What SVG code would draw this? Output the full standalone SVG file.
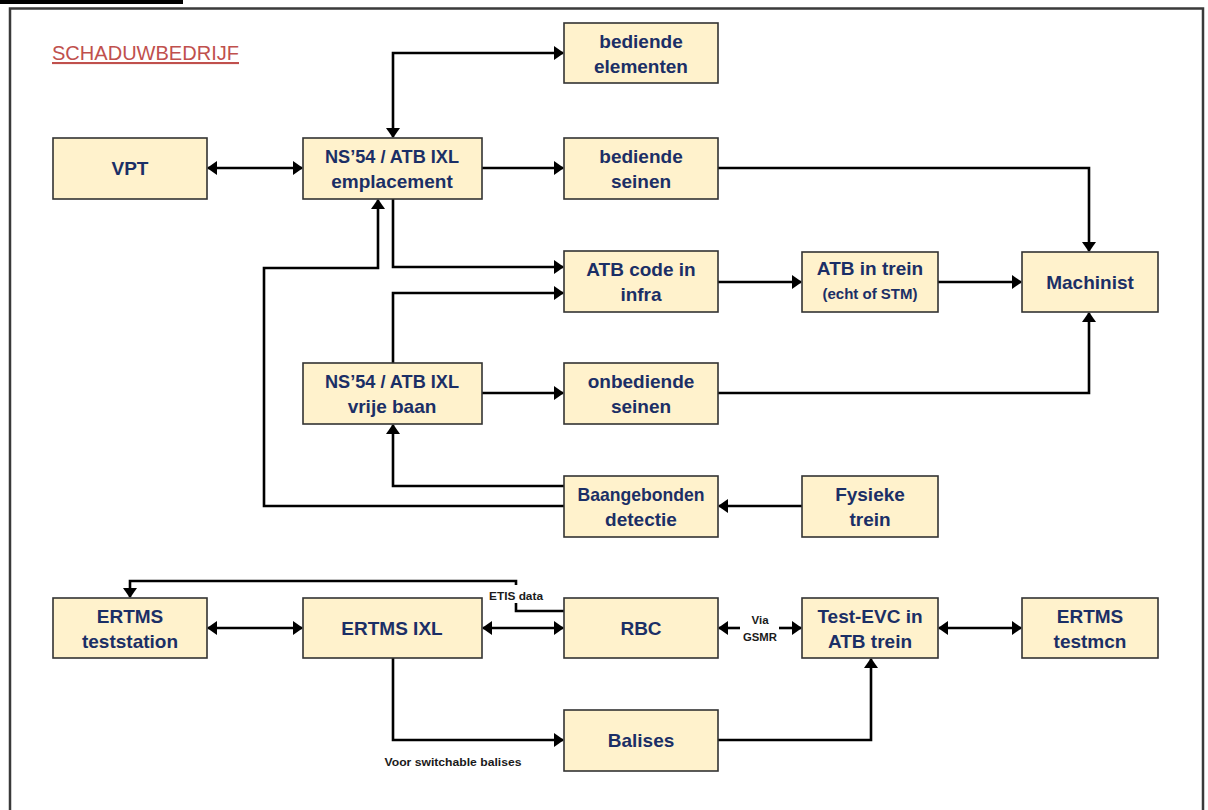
<svg xmlns="http://www.w3.org/2000/svg" width="1208" height="810" viewBox="0 0 1208 810">
<defs>
<marker id="ah" markerUnits="userSpaceOnUse" markerWidth="10" markerHeight="14" refX="9" refY="7" orient="auto-start-reverse">
<path d="M0,0 L10,7 L0,14 z" fill="#000"/>
</marker>
<style>
.nd rect{fill:#fff2cc;stroke:#333;stroke-width:1.6}
.nd text{font-family:"Liberation Sans",Arial,sans-serif;font-weight:bold;font-size:19px;fill:#1b2f66;text-anchor:middle}
.nd text.sm{font-size:15px}
.cn path{fill:none;stroke:#000;stroke-width:2.6}
.one{marker-end:url(#ah)}
.two{marker-start:url(#ah);marker-end:url(#ah)}
.lbl{font-family:"Liberation Sans",Arial,sans-serif;font-size:11.5px;fill:#1a1a1a;text-anchor:middle;font-weight:bold}
.frame{fill:none;stroke:#3a3a3a;stroke-width:2.5}
</style>
</defs>
<rect width="1208" height="810" fill="#fff"/>
<rect x="0" y="0" width="183" height="4" fill="#000"/>
<path class="frame" d="M10,810 V8.5 H1203 V810"/>
<text x="52" y="60" font-family="'Liberation Sans',Arial,sans-serif" font-size="21" fill="#c0504d" text-decoration="underline" textLength="187" lengthAdjust="spacingAndGlyphs">SCHADUWBEDRIJF</text>

<g class="cn">
<path class="two" d="M208,168 H302"/>
<path class="two" d="M393,137 V53 H563"/>
<path class="one" d="M482,168 H563"/>
<path class="one" d="M718,168 H1089 V251"/>
<path class="one" d="M393,199 V267 H563"/>
<path class="one" d="M564,506 H264 V268 H378 V200"/>
<path class="one" d="M393,363 V293 H563"/>
<path class="one" d="M482,393 H563"/>
<path class="one" d="M718,393 H1089 V313"/>
<path class="one" d="M564,486 H393 V425"/>
<path class="one" d="M802,506 H719"/>
<path class="one" d="M718,282 H801"/>
<path class="one" d="M938,282 H1021"/>
<path class="two" d="M208,628 H302"/>
<path class="two" d="M483,628 H563"/>
<path d="M564,611 H516 V603"/>
<path class="one" d="M516,585 V581 H130 V597"/>
<path class="one" d="M740,628 H719"/>
<path class="one" d="M779,628 H801"/>
<path class="two" d="M939,628 H1021"/>
<path class="one" d="M393,658 V740 H563"/>
<path class="one" d="M718,740 H871 V659"/>
</g>
<text class="lbl" x="516" y="600" textLength="54" lengthAdjust="spacingAndGlyphs">ETIS data</text>
<text class="lbl" x="760" y="624">Via</text>
<text class="lbl" x="760" y="641" textLength="34" lengthAdjust="spacingAndGlyphs">GSMR</text>
<text class="lbl" x="453" y="766" textLength="137" lengthAdjust="spacingAndGlyphs">Voor switchable balises</text>

<g id="bediende-elementen" class="nd"><rect x="564" y="23" width="154" height="60"/><text x="641" y="48">bediende</text><text x="641" y="73">elementen</text></g>
<g id="vpt" class="nd"><rect x="53" y="138" width="154" height="61"/><text x="130" y="175">VPT</text></g>
<g id="ns54-emplacement" class="nd"><rect x="303" y="138" width="179" height="61"/><text x="392" y="163" textLength="134" lengthAdjust="spacingAndGlyphs">NS’54 / ATB IXL</text><text x="392" y="188">emplacement</text></g>
<g id="bediende-seinen" class="nd"><rect x="564" y="138" width="154" height="61"/><text x="641" y="163">bediende</text><text x="641" y="188">seinen</text></g>
<g id="atb-code-infra" class="nd"><rect x="564" y="251" width="154" height="61"/><text x="641" y="276">ATB code in</text><text x="641" y="301">infra</text></g>
<g id="atb-in-trein" class="nd"><rect x="802" y="252" width="136" height="60"/><text x="870" y="275">ATB in trein</text><text class="sm" x="870" y="299">(echt of STM)</text></g>
<g id="machinist" class="nd"><rect x="1022" y="252" width="136" height="60"/><text x="1090" y="289">Machinist</text></g>
<g id="ns54-vrije-baan" class="nd"><rect x="303" y="363" width="179" height="61"/><text x="392" y="388" textLength="134" lengthAdjust="spacingAndGlyphs">NS’54 / ATB IXL</text><text x="392" y="413">vrije baan</text></g>
<g id="onbediende-seinen" class="nd"><rect x="564" y="363" width="154" height="61"/><text x="641" y="388">onbediende</text><text x="641" y="413">seinen</text></g>
<g id="baangebonden-detectie" class="nd"><rect x="564" y="476" width="154" height="61"/><text x="641" y="501" textLength="127" lengthAdjust="spacingAndGlyphs">Baangebonden</text><text x="641" y="526">detectie</text></g>
<g id="fysieke-trein" class="nd"><rect x="802" y="476" width="136" height="61"/><text x="870" y="501">Fysieke</text><text x="870" y="526">trein</text></g>
<g id="ertms-teststation" class="nd"><rect x="53" y="598" width="154" height="60"/><text x="130" y="623">ERTMS</text><text x="130" y="648">teststation</text></g>
<g id="ertms-ixl" class="nd"><rect x="303" y="598" width="179" height="60"/><text x="392" y="635">ERTMS IXL</text></g>
<g id="rbc" class="nd"><rect x="564" y="598" width="154" height="60"/><text x="641" y="635">RBC</text></g>
<g id="test-evc" class="nd"><rect x="802" y="598" width="136" height="60"/><text x="870" y="623">Test-EVC in</text><text x="870" y="648">ATB trein</text></g>
<g id="ertms-testmcn" class="nd"><rect x="1022" y="598" width="136" height="60"/><text x="1090" y="623">ERTMS</text><text x="1090" y="648">testmcn</text></g>
<g id="balises" class="nd"><rect x="564" y="710" width="154" height="61"/><text x="641" y="747">Balises</text></g>
</svg>
